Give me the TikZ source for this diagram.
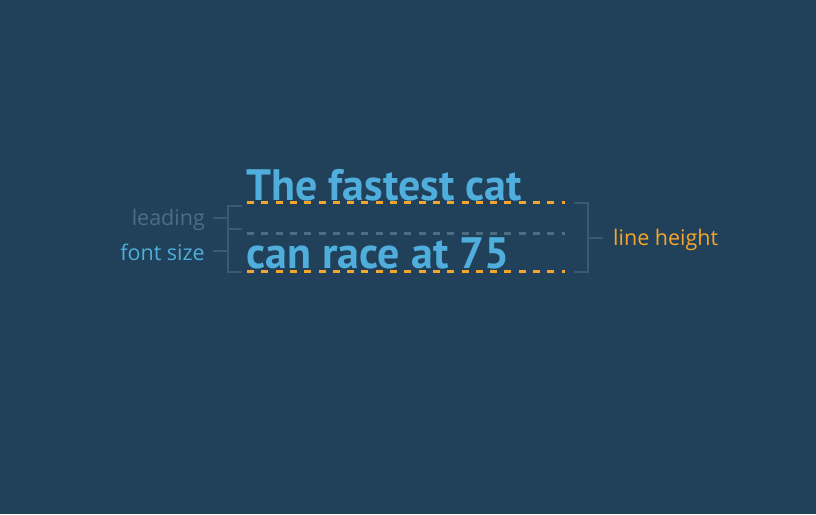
\documentclass[tikz,border=0pt]{standalone}
\usepackage{fontspec}
\setmainfont{PT Sans}
\newfontfamily\labelfont{Open Sans}
\definecolor{bg}{HTML}{21405A}
\definecolor{txtblue}{HTML}{4FAEDB}
\definecolor{orng}{HTML}{F5A62B}
\definecolor{greyblue}{HTML}{4E6D85}
\definecolor{brk}{HTML}{3A5A73}
\tikzset{
  bigtext/.style={anchor=base west, inner sep=0pt, text=txtblue, font=\fontsize{44}{44}\selectfont\bfseries},
  lbl/.style={inner sep=0pt, font=\labelfont\fontsize{21.5}{21.5}\selectfont},
  dashline/.style={line width=3pt, dash pattern=on 7pt off 7.3pt},
  bracket/.style={draw=brk, line width=1.2pt}
}
\begin{document}
\begin{tikzpicture}[x=1pt,y=-1pt]
\fill[bg] (0,0) rectangle (816,514);
\useasboundingbox (0,0) rectangle (816,514);
% text lines
\node[bigtext] (l1) at (246,200) {The fastest cat};
\node[bigtext] (l2) at (246,268) {can race at 75};
% dashed lines
\coordinate (o1a) at (247,202); \coordinate (o1b) at (565,202);
\coordinate (ga) at (247,233); \coordinate (gb) at (565,233);
\coordinate (o2a) at (247,271); \coordinate (o2b) at (565,271);
\draw[dashline, orng] (o1a) -- (o1b);
\draw[dashline, greyblue] (ga) -- (gb);
\draw[dashline, orng] (o2a) -- (o2b);
% left bracket
\coordinate (lt) at (242,206); \coordinate (lm) at (242,229); \coordinate (lb) at (242,272);
\coordinate (vt) at (228,206); \coordinate (vm) at (228,229); \coordinate (vb) at (228,272);
\draw[bracket] (lt) -- (vt) -- (vb) -- (lb);
\draw[bracket] (vm) -- (lm);
\coordinate (lead1) at (228,218); \coordinate (lead0) at (213,218);
\coordinate (fs1) at (228,251); \coordinate (fs0) at (213,251);
\draw[bracket] (lead1) -- (lead0);
\draw[bracket] (fs1) -- (fs0);
\node[lbl, anchor=east, text=greyblue] (leading) at (205,220) {leading};
\node[lbl, anchor=east, text=txtblue] (fontsize) at (205,252) {font size};
% right bracket
\coordinate (rt) at (574,203); \coordinate (rb) at (574,272);
\coordinate (rvt) at (588,203); \coordinate (rvb) at (588,272);
\coordinate (rvm) at (588,238); \coordinate (rm) at (603,238);
\draw[bracket] (rt) -- (rvt) -- (rvb) -- (rb);
\draw[bracket] (rvm) -- (rm);
\node[lbl, anchor=west, text=orng] (lh) at (613,240) {line height};
\end{tikzpicture}
\end{document}
